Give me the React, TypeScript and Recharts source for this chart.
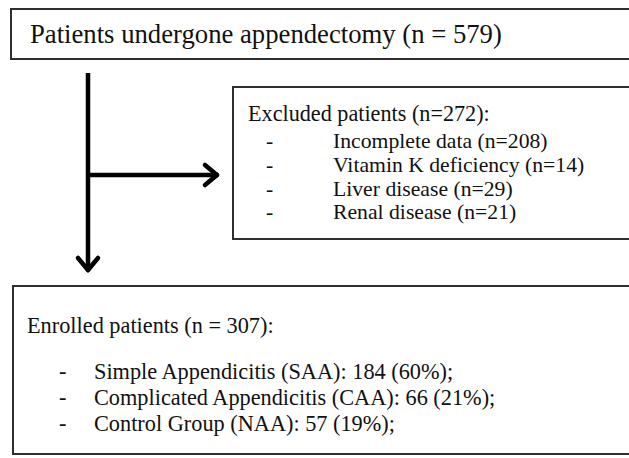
import React from "react";
import { ComposedChart, XAxis, YAxis, ReferenceArea, ReferenceLine } from "recharts";

// ---- data ----
const totalPatients = 579;
const excludedTotal = 272;
const excludedReasons = ["Incomplete data", "Vitamin K deficiency", "Liver disease", "Renal disease"];
const excludedCounts = [208, 14, 29, 21];
const enrolledTotal = 307;
const enrolledGroups = ["Simple Appendicitis (SAA)", "Complicated Appendicitis (CAA)", "Control Group (NAA)"];
const enrolledCounts = [184, 66, 57];
const enrolledPercents = [60, 21, 19];

// ---- layout ----
const W = 629;
const H = 458;
const FONT = "'Liberation Serif', 'Times New Roman', serif";
const INK = "#111";
const LINE = "#2e2e2e";

const topBox = { x1: 11, x2: 660, y1: 9, y2: 59 };
const exclBox = { x1: 233, x2: 660, y1: 87, y2: 239 };
const enrBox = { x1: 13, x2: 660, y1: 286, y2: 454 };

const stemX = 88;
const stemTop = 73;
const stemTip = 270;
const branchY = 175;
const branchTip = 217;

const txt = (x: number, y: number, s: string, size: number, key?: string) => (
  <text key={key} x={x} y={y} fontFamily={FONT} fontSize={size} fill={INK}>
    {s}
  </text>
);

const TopLabel = (props: any) => {
  const vb = props.viewBox;
  return <g>{txt(vb.x + 19, vb.y + 34, `Patients undergone appendectomy (n = ${totalPatients})`, 26.7)}</g>;
};

const ExclLabel = (props: any) => {
  const vb = props.viewBox;
  const baselines = [61, 85, 109, 132];
  return (
    <g>
      {txt(vb.x + 15, vb.y + 34, `Excluded patients (n=${excludedTotal}):`, 22.2)}
      {excludedReasons.map((r, i) => (
        <g key={r}>
          {txt(vb.x + 33, vb.y + baselines[i], "-", 21.7)}
          {txt(vb.x + 100, vb.y + baselines[i], `${r} (n=${excludedCounts[i]})`, 21.7)}
        </g>
      ))}
    </g>
  );
};

const EnrLabel = (props: any) => {
  const vb = props.viewBox;
  const baselines = [93, 119, 145];
  return (
    <g>
      {txt(vb.x + 14, vb.y + 47, `Enrolled patients (n = ${enrolledTotal}):`, 22.3)}
      {enrolledGroups.map((g, i) => (
        <g key={g}>
          {txt(vb.x + 46, vb.y + baselines[i], "-", 22.3)}
          {txt(vb.x + 81, vb.y + baselines[i], `${g}: ${enrolledCounts[i]} (${enrolledPercents[i]}%);`, 22.3)}
        </g>
      ))}
    </g>
  );
};

const arrowW = 4.5;

export default function App() {
  return (
    <div style={{ position: "absolute", left: 0, top: 0, width: W, height: H, background: "#fff" }}>
      <ComposedChart width={W} height={H} margin={{ top: 0, right: 0, bottom: 0, left: 0 }} data={[]}>
        <XAxis type="number" dataKey="x" domain={[0, W]} hide allowDataOverflow />
        <YAxis type="number" dataKey="y" domain={[0, H]} reversed hide allowDataOverflow />
        <ReferenceArea {...topBox} ifOverflow="visible" fill="#fff" fillOpacity={1} stroke={LINE} strokeWidth={2} label={TopLabel} />
        <ReferenceArea {...exclBox} ifOverflow="visible" fill="#fff" fillOpacity={1} stroke={LINE} strokeWidth={2} label={ExclLabel} />
        <ReferenceArea {...enrBox} ifOverflow="visible" fill="#fff" fillOpacity={1} stroke={LINE} strokeWidth={2} label={EnrLabel} />
        <ReferenceLine segment={[{ x: stemX, y: stemTop }, { x: stemX, y: stemTip - 1 }]} ifOverflow="visible" stroke="#000" strokeWidth={arrowW} />
        <ReferenceLine segment={[{ x: stemX, y: branchY }, { x: branchTip - 1, y: branchY }]} ifOverflow="visible" stroke="#000" strokeWidth={arrowW} />
        <ReferenceLine segment={[{ x: stemX - 10, y: stemTip - 12 }, { x: stemX, y: stemTip }]} ifOverflow="visible" stroke="#000" strokeWidth={arrowW} strokeLinecap="round" />
        <ReferenceLine segment={[{ x: stemX + 10, y: stemTip - 12 }, { x: stemX, y: stemTip }]} ifOverflow="visible" stroke="#000" strokeWidth={arrowW} strokeLinecap="round" />
        <ReferenceLine segment={[{ x: branchTip - 12, y: branchY - 10 }, { x: branchTip, y: branchY }]} ifOverflow="visible" stroke="#000" strokeWidth={arrowW} strokeLinecap="round" />
        <ReferenceLine segment={[{ x: branchTip - 12, y: branchY + 10 }, { x: branchTip, y: branchY }]} ifOverflow="visible" stroke="#000" strokeWidth={arrowW} strokeLinecap="round" />
      </ComposedChart>
    </div>
  );
}
